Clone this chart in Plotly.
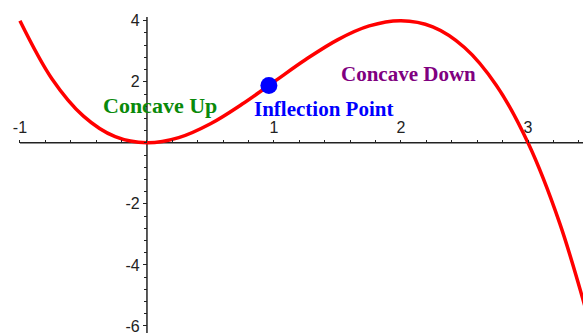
import plotly.graph_objects as go
import numpy as np

# curve points
curve_x = [-1.0, -0.75, -0.5, -0.25, 0.0, 0.25, 0.5, 0.75, 1.0, 1.25, 1.5, 1.75,
           2.0, 2.25, 2.5, 2.75, 3.0, 3.25, 3.5]
curve_y = [4.0, 2.11, 0.875, 0.20, 0.0, 0.17, 0.625, 1.27, 2.0, 2.73, 3.375, 3.83,
           4.0, 3.80, 3.125, 1.89, 0.0, -2.64, -6.125]

inflection_x = [0.96]
inflection_y = [1.88]

x_tick_vals = [-1, 1, 2, 3]
x_tick_text = ["-1", "1", "2", "3"]
y_tick_vals = [4, 2, -2, -4, -6]
y_tick_text = ["4", "2", "-2", "-4", "-6"]

labels = ["Concave Up", "Inflection Point", "Concave Down"]
label_x = [0.10, 1.39, 2.06]
label_y = [1.22, 1.10, 2.24]
label_sizes = [22, 21, 21]
label_colors = ["#0a8a0a", "#0000ff", "#800080"]

XR = [-1.157, 3.433]
YR = [-6.23, 4.68]

fig = go.Figure()
fig.add_trace(go.Scatter(x=curve_x, y=curve_y, mode="lines",
                         line=dict(color="#ff0000", width=3.5, shape="spline"),
                         hoverinfo="skip", showlegend=False))
fig.add_trace(go.Scatter(x=inflection_x, y=inflection_y, mode="markers",
                         marker=dict(color="#0000ff", size=17),
                         showlegend=False))

for t, x, y, s, c in zip(labels, label_x, label_y, label_sizes, label_colors):
    fig.add_annotation(x=x, y=y, text="<b>%s</b>" % t, showarrow=False,
                       font=dict(family="Liberation Serif", size=s, color=c))

# axis lines
fig.add_shape(type="line", x0=-1, x1=XR[1], y0=0, y1=0, xref="x", yref="y",
              line=dict(color="#222222", width=1.5), layer="below")
fig.add_shape(type="line", x0=0, x1=0, y0=YR[0], y1=4.12, xref="x", yref="y",
              line=dict(color="#222222", width=1.5), layer="below")

xpos = (0 - YR[0]) / (YR[1] - YR[0])
ypos = (0 - XR[0]) / (XR[1] - XR[0])

fig.update_layout(
    width=583, height=333,
    margin=dict(l=0, r=0, t=0, b=0),
    paper_bgcolor="white", plot_bgcolor="white",
    xaxis=dict(range=XR, showgrid=False, zeroline=False, showline=False,
               automargin=False, ticklabeloverflow="allow",
               side="top", anchor="free", position=xpos,
               tickmode="array", tickvals=x_tick_vals, ticktext=x_tick_text,
               ticks="outside", ticklen=3, tickwidth=1.3, tickcolor="#222222",
               ticklabelstandoff=0,
               tickfont=dict(family="Liberation Sans", size=16, color="#222222"),
               minor=dict(tickmode="array",
                          tickvals=[round(v, 2) for v in np.arange(-1, 3.45, 0.2)],
                          ticks="outside", ticklen=3, tickwidth=1.3, tickcolor="#222222")),
    yaxis=dict(range=YR, showgrid=False, zeroline=False, showline=False,
               automargin=False, ticklabeloverflow="allow",
               side="left", anchor="free", position=ypos,
               tickmode="array", tickvals=y_tick_vals, ticktext=y_tick_text,
               ticks="outside", ticklen=4, tickwidth=1.3, tickcolor="#222222",
               tickfont=dict(family="Liberation Sans", size=16, color="#222222"),
               minor=dict(tickmode="array",
                          tickvals=[round(v, 2) for v in np.arange(-6.0, 4.1, 0.4)],
                          ticks="outside", ticklen=3, tickwidth=1.3, tickcolor="#222222")),
)

fig.write_html("out.html",
               config={"displayModeBar": False},
               post_script="document.body.style.margin='0';document.body.style.padding='0';")
